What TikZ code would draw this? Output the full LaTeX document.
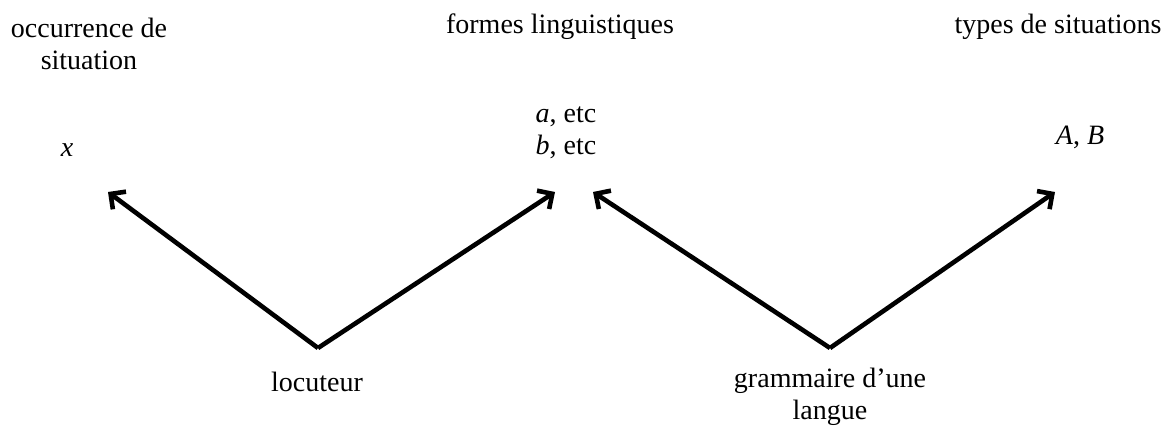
\documentclass[tikz,border=0pt]{standalone}
\usepackage{fontspec}
\setmainfont{Liberation Serif}
\usetikzlibrary{arrows.meta}
\begin{document}
\begin{tikzpicture}[x=1pt,y=-1pt,
  lbl/.style={inner sep=0pt,align=center,font=\fontsize{28}{32}\selectfont},
  arr/.style={line width=4.6pt,-{Straight Barb[length=11pt,width=22pt,line width=4.6pt]}}]
\useasboundingbox (0,0) rectangle (1175,426);
\node[lbl] (occ) at (89,44) {occurrence de\\situation};
\node[lbl] (formes) at (560,27) {formes linguistiques};
\node[lbl] (types) at (1058,27) {types de situations};
\node[lbl] (x) at (67,150) {\textit{x}};
\node[lbl] (ab) at (566,133) {\textit{a}, etc\\\textit{b}, etc};
\node[lbl] (AB) at (1080,137) {\textit{A}, \textit{B}};
\node[lbl] (loc) at (317,382) {locuteur};
\node[lbl] (gram) at (830,397) {grammaire d’une\\langue};
\coordinate (apexL) at (318,348);
\coordinate (apexR) at (830,348);
\coordinate (t1) at (108,192);
\coordinate (t2) at (555,192);
\coordinate (t3) at (593,192);
\coordinate (t4) at (1055,192);
\draw[arr] (apexL) -- (t1);
\draw[arr] (apexL) -- (t2);
\draw[arr] (apexR) -- (t3);
\draw[arr] (apexR) -- (t4);
\end{tikzpicture}
\end{document}
